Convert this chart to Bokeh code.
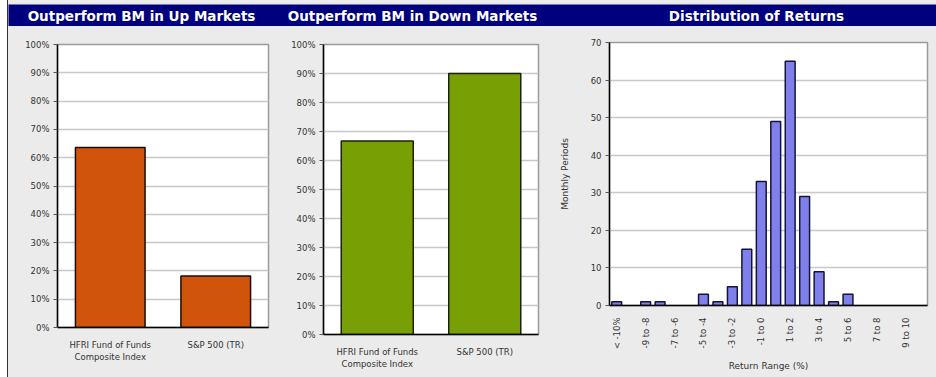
import math
from bokeh.plotting import figure
from bokeh.models import Range1d, FactorRange, NumeralTickFormatter, FixedTicker, Spacer
from bokeh.layouts import column, row
from bokeh.embed import file_html
from bokeh.resources import INLINE
from bokeh.core.properties import value

# ---------------- data ----------------
panel_titles = ["Outperform BM in Up Markets", "Outperform BM in Down Markets", "Distribution of Returns"]
bm_categories = ["HFRI Fund of Funds\nComposite Index", "S&P 500 (TR)"]
up_market_pct = [0.636, 0.182]
down_market_pct = [0.667, 0.90]
return_ranges = ["< -10%", "-10 to -9", "-9 to -8", "-8 to -7", "-7 to -6", "-6 to -5",
                 "-5 to -4", "-4 to -3", "-3 to -2", "-2 to -1", "-1 to 0", "0 to 1",
                 "1 to 2", "2 to 3", "3 to 4", "4 to 5", "5 to 6", "6 to 7",
                 "7 to 8", "8 to 9", "9 to 10", "> 10%"]
monthly_periods = [1, 0, 1, 1, 0, 0, 3, 1, 5, 15, 33, 49, 65, 29, 9, 1, 3, 0, 0, 0, 0, 0]
pct_ticks = [0, 0.1, 0.2, 0.3, 0.4, 0.5, 0.6, 0.7, 0.8, 0.9, 1.0]
count_ticks = [0, 10, 20, 30, 40, 50, 60, 70]

# ---------------- style ----------------
BG = "#ebebeb"
NAVY = "#00007e"
FONT = "DejaVu Sans"
TICK_COLOR = "#333333"
ROW_H = 351


def style(p):
    p.border_fill_color = BG
    p.background_fill_color = "white"
    p.outline_line_color = "#9a9a9a"
    p.outline_line_width = 1.5
    p.xgrid.grid_line_color = None
    p.ygrid.grid_line_color = "#c8c8c8"
    p.ygrid.grid_line_width = 1.5
    for ax in (p.xaxis[0], p.yaxis[0]):
        ax.axis_line_color = "black"
        ax.axis_line_width = 1.5
        ax.major_label_text_font = FONT
        ax.major_label_text_font_size = "8.5px"
        ax.major_label_text_color = TICK_COLOR
        ax.minor_tick_line_color = None
        ax.axis_label_text_font = FONT
        ax.axis_label_text_font_size = "9px"
        ax.axis_label_text_font_style = "normal"
        ax.axis_label_text_color = TICK_COLOR
    p.yaxis.major_tick_line_color = "#555555"
    p.yaxis.major_tick_in = 0
    p.yaxis.major_tick_out = 4
    p.yaxis.major_label_standoff = 4
    p.xaxis.major_tick_line_color = None
    p.xaxis.major_label_standoff = 6


# ---------------- header strip ----------------
hdr = figure(width=928, height=22, x_range=Range1d(0, 928), y_range=Range1d(0, 22),
             output_backend="svg", toolbar_location=None, min_border=0)
hdr.axis.visible = False
hdr.grid.grid_line_color = None
hdr.outline_line_color = None
hdr.background_fill_color = NAVY
hdr.border_fill_color = NAVY
hdr.text(x=[133, 404, 748], y=[11, 11, 11], text=panel_titles,
         text_color="white", text_font=value(FONT), text_font_style="bold",
         text_font_size="13.5px", text_align="center", text_baseline="middle")

# ---------------- panel 1 ----------------
p1 = figure(width=264, height=ROW_H, x_range=FactorRange(*bm_categories), y_range=Range1d(0, 1),
            output_backend="svg", toolbar_location=None,
            min_border_left=49, min_border_right=4, min_border_top=18, min_border_bottom=50)
p1.vbar(x=bm_categories, top=up_market_pct, width=0.66, fill_color="#d0540c",
        line_color="#1a0a00", line_width=1.5)
style(p1)
p1.yaxis.ticker = pct_ticks
p1.yaxis.formatter = NumeralTickFormatter(format="0%")
p1.x_range.range_padding = 0

# ---------------- panel 2 ----------------
p2 = figure(width=273, height=ROW_H, x_range=FactorRange(*bm_categories), y_range=Range1d(0, 1),
            output_backend="svg", toolbar_location=None,
            min_border_left=51, min_border_right=7, min_border_top=18, min_border_bottom=43)
p2.vbar(x=bm_categories, top=down_market_pct, width=0.67, fill_color="#78a004",
        line_color="#1a2200", line_width=1.5)
style(p2)
p2.yaxis.ticker = pct_ticks
p2.yaxis.formatter = NumeralTickFormatter(format="0%")
p2.x_range.range_padding = 0

# ---------------- panel 3 ----------------
idx = list(range(len(return_ranges)))
bar_x = [i for i, v in zip(idx, monthly_periods) if v > 0]
bar_top = [v for v in monthly_periods if v > 0]
p3 = figure(width=391, height=ROW_H, x_range=Range1d(-0.5, len(return_ranges) - 0.5),
            y_range=Range1d(0, 70),
            output_backend="svg", toolbar_location=None,
            min_border_left=64, min_border_right=9, min_border_top=16, min_border_bottom=72)
p3.vbar(x=bar_x, top=bar_top, width=0.68, fill_color="#8080ec",
        line_color="#14143a", line_width=1.5)
style(p3)
p3.yaxis.ticker = count_ticks
p3.xaxis.ticker = FixedTicker(ticks=idx[::2])
p3.xaxis.major_label_overrides = {i: return_ranges[i] for i in idx[::2]}
p3.xaxis.major_label_orientation = math.pi / 2
p3.xaxis.axis_label = "Return Range (%)"
p3.yaxis.axis_label = "Monthly Periods"
p3.xaxis.axis_label_standoff = 9
p3.yaxis.axis_label_standoff = 18

main = column(Spacer(width=928, height=4), hdr,
              row(column(p1), column(p2), column(p3), spacing=0), spacing=0,
              styles={"background-color": BG})
border = Spacer(width=1, height=377, styles={"background-color": "#333333"})
layout = row(Spacer(width=7, height=377), border, main, spacing=0)

open("out.html", "w").write(file_html(layout, INLINE))
